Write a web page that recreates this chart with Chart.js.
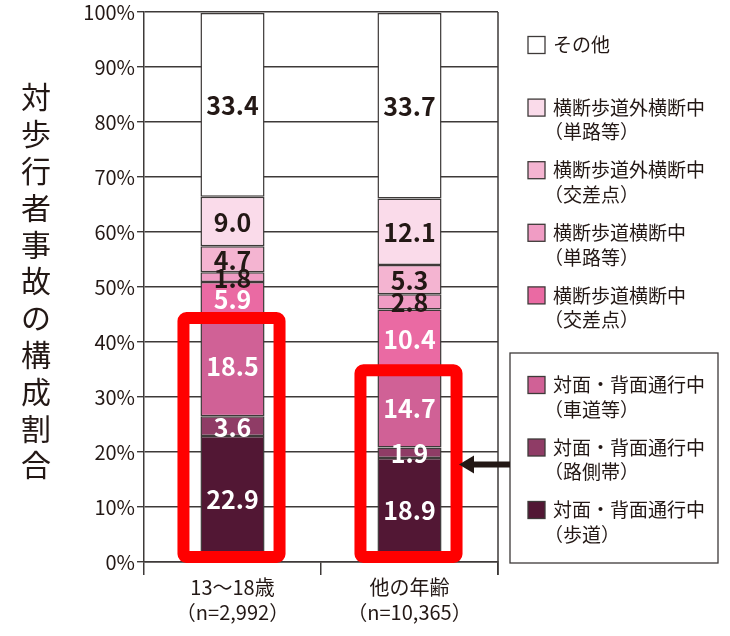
<!DOCTYPE html>
<html lang="ja">
<head>
<meta charset="utf-8">
<script src="https://cdn.jsdelivr.net/npm/chart.js@4.4.1/dist/chart.umd.min.js"></script>
<style>
  html, body { margin: 0; padding: 0; background: #fff; }
  #wrap { width: 730px; height: 636px; }
</style>
</head>
<body>
<div id="wrap"><canvas id="chart" width="730" height="636"></canvas></div>
<script>
// ── データ ────────────────────────────────────────────────
const categories = [['13～18歳', '（n=2,992）'], ['他の年齢', '（n=10,365）']];

// 下から積み上げる順
const taimenHodo       = [22.9, 18.9]; // 対面・背面通行中（歩道）
const taimenRosokutai  = [3.6, 1.9];   // 対面・背面通行中（路側帯）
const taimenShadou     = [18.5, 14.7]; // 対面・背面通行中（車道等）
const oudanKousaten    = [5.9, 10.4];  // 横断歩道横断中（交差点）
const oudanTanro       = [1.8, 2.8];   // 横断歩道横断中（単路等）
const oudangaiKousaten = [4.7, 5.3];   // 横断歩道外横断中（交差点）
const oudangaiTanro    = [9.0, 12.1];  // 横断歩道外横断中（単路等）
const sonota           = [33.4, 33.7]; // その他

const yTitle = '対歩行者事故の構成割合';

// ── 色 ────────────────────────────────────────────────────
const INK  = '#231815';
const LINE = '#3e3a39';
const FONT = "'Noto Sans CJK JP', 'Noto Sans', sans-serif";

function ds(label, data, color, textColor) {
  return {
    label, data, backgroundColor: color, textColor,
    borderColor: LINE, borderWidth: 1.5, borderSkipped: false,
    barPercentage: 0.362, categoryPercentage: 1.0,
  };
}

const datasets = [
  ds(['対面・背面通行中', '（歩道）'],       taimenHodo,       '#521734', '#fff'),
  ds(['対面・背面通行中', '（路側帯）'],     taimenRosokutai,  '#8f3c66', '#fff'),
  ds(['対面・背面通行中', '（車道等）'],     taimenShadou,     '#d06196', '#fff'),
  ds(['横断歩道横断中', '（交差点）'],       oudanKousaten,    '#ea6aa3', '#fff'),
  ds(['横断歩道横断中', '（単路等）'],       oudanTanro,       '#f09cc4', INK),
  ds(['横断歩道外横断中', '（交差点）'],     oudangaiKousaten, '#f4b4d1', INK),
  ds(['横断歩道外横断中', '（単路等）'],     oudangaiTanro,    '#fadbea', INK),
  ds(['その他'],                             sonota,           '#ffffff', INK),
];

// ── プラグイン ────────────────────────────────────────────
// 縦書きの軸タイトルと右側の枠線
const framePlugin = {
  id: 'frame',
  beforeDatasetsDraw(chart) {
    const { ctx, chartArea: a } = chart;
    ctx.save();
    ctx.strokeStyle = LINE;
    ctx.lineWidth = 1.5;
    ctx.beginPath();
    ctx.moveTo(a.right, a.top);
    ctx.lineTo(a.right, a.bottom + 13);
    ctx.stroke();
    ctx.restore();
  },
  afterDraw(chart) {
    const { ctx } = chart;
    ctx.save();
    ctx.fillStyle = INK;
    ctx.font = `30px ${FONT}`;
    ctx.textAlign = 'center';
    ctx.textBaseline = 'middle';
    [...yTitle].forEach((ch, i) => ctx.fillText(ch, 36, 97 + i * 36.8));
    ctx.restore();
  }
};

// 各区分の数値
const valueLabels = {
  id: 'valueLabels',
  afterDatasetsDraw(chart) {
    const { ctx } = chart;
    ctx.save();
    ctx.font = `bold 25px ${FONT}`;
    ctx.textAlign = 'center';
    ctx.textBaseline = 'middle';
    chart.data.datasets.forEach((d, di) => {
      chart.getDatasetMeta(di).data.forEach((bar, i) => {
        ctx.fillStyle = d.textColor;
        ctx.fillText(d.data[i].toFixed(1), bar.x, (bar.y + bar.base) / 2 + 1);
      });
    });
    ctx.restore();
  }
};

// 対面・背面通行中の3区分を囲む赤枠
const redBoxes = {
  id: 'redBoxes',
  afterDatasetsDraw(chart) {
    const { ctx, scales: { y } } = chart;
    const lw = 12;
    ctx.save();
    ctx.strokeStyle = '#ff0000';
    ctx.lineWidth = lw;
    ctx.lineJoin = 'round';
    chart.getDatasetMeta(0).data.forEach((bar, i) => {
      const top = y.getPixelForValue(taimenHodo[i] + taimenRosokutai[i] + taimenShadou[i]) - 2.5;
      const bottom = y.getPixelForValue(0) + 1;
      const left = bar.x - bar.width / 2 - 23;
      const right = bar.x + bar.width / 2 + 21;
      ctx.beginPath();
      ctx.roundRect(left + lw / 2, top + lw / 2, right - left - lw, bottom - top - lw, 3);
      ctx.stroke();
    });
    ctx.restore();
  }
};

// 凡例（上5項目＋枠付き3項目）と矢印
const legendPlugin = {
  id: 'customLegend',
  afterDraw(chart) {
    const { ctx } = chart;
    const sets = chart.data.datasets;
    const swX = 528, sw = 17, txX = 553, lineH = 24.5;
    ctx.save();
    ctx.font = `19px ${FONT}`;
    ctx.textBaseline = 'middle';
    ctx.textAlign = 'left';

    const drawItem = (d, cy) => {
      ctx.fillStyle = d.backgroundColor;
      ctx.fillRect(swX, cy - sw / 2, sw, sw);
      ctx.strokeStyle = LINE;
      ctx.lineWidth = 1.3;
      ctx.strokeRect(swX, cy - sw / 2, sw, sw);
      ctx.fillStyle = INK;
      d.label.forEach((t, k) => {
        ctx.fillText(t, k === 0 ? txX : txX - 9, cy + k * lineH);
      });
    };

    for (let k = 0; k < 5; k++) drawItem(sets[7 - k], 45 + k * 62.6);
    const boxYs = [];
    for (let k = 0; k < 3; k++) {
      const cy = 385 + k * 62.5;
      boxYs.push(cy);
      drawItem(sets[2 - k], cy);
    }

    // 枠
    ctx.strokeStyle = LINE;
    ctx.lineWidth = 1.3;
    ctx.strokeRect(510, 353, 208, 210);

    // 矢印
    const ay = boxYs[1] + 17;
    ctx.fillStyle = INK;
    ctx.fillRect(472, ay - 3, 38, 6);
    ctx.beginPath();
    ctx.moveTo(459, ay);
    ctx.lineTo(474, ay - 9);
    ctx.lineTo(474, ay + 9);
    ctx.closePath();
    ctx.fill();
    ctx.restore();
  }
};

// ── チャート ──────────────────────────────────────────────
new Chart(document.getElementById('chart'), {
  type: 'bar',
  data: { labels: categories, datasets },
  plugins: [framePlugin, valueLabels, redBoxes, legendPlugin],
  options: {
    responsive: false,
    animation: false,
    devicePixelRatio: 1,
    layout: { padding: { left: 60, right: 232, top: 11, bottom: 0 } },
    plugins: { legend: { display: false }, tooltip: { enabled: false } },
    scales: {
      x: {
        stacked: true,
        afterFit: s => { s.height = 74; },
        grid: { offset: true, drawOnChartArea: false, tickLength: 13, color: LINE, lineWidth: 1.5 },
        border: { display: true, color: LINE, width: 1.5 },
        ticks: { color: INK, padding: 0, font: { family: FONT, size: 20, lineHeight: 1.25 } },
      },
      y: {
        stacked: true,
        min: 0, max: 100,
        afterFit: s => { s.width = 84; },
        grid: { color: LINE, lineWidth: 1.4, tickLength: 7 },
        border: { display: true, color: LINE, width: 1.5 },
        ticks: {
          stepSize: 10, padding: 2, color: INK,
          font: { family: FONT, size: 20, lineHeight: 1 },
          callback: v => v + '%'
        },
      }
    }
  }
});
</script>
</body>
</html>
